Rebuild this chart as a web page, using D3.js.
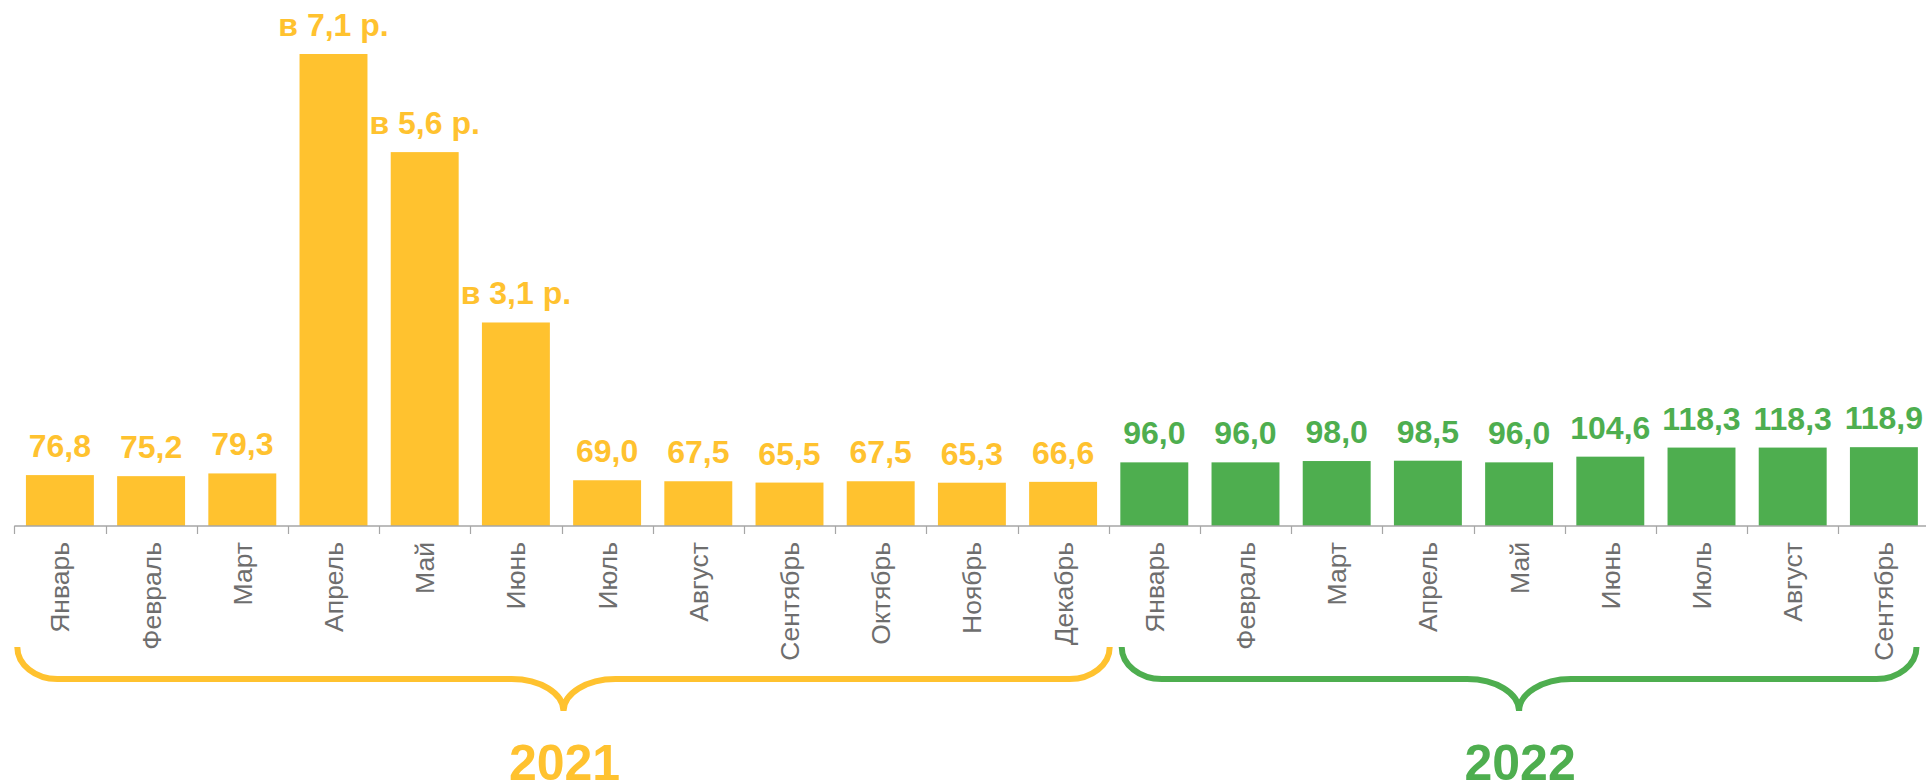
<!DOCTYPE html>
<html>
<head>
<meta charset="utf-8">
<script src="https://cdn.jsdelivr.net/npm/d3@7"></script>
<style>
  html, body { margin: 0; padding: 0; background: #ffffff; }
  svg { display: block; font-family: "Liberation Sans", Arial, sans-serif; }
</style>
</head>
<body>
<svg id="chart" width="1926" height="782"></svg>
<script>
// ---- Data ----
const months2021 = ["Январь", "Февраль", "Март", "Апрель", "Май", "Июнь", "Июль", "Август", "Сентябрь", "Октябрь", "Ноябрь", "Декабрь"];
const values2021 = [76.8, 75.2, 79.3, 712, 564, 307, 69.0, 67.5, 65.5, 67.5, 65.3, 66.6];
const labels2021 = [null, null, null, "в 7,1 р.", "в 5,6 р.", "в 3,1 р.", null, null, null, null, null, null];

const months2022 = ["Январь", "Февраль", "Март", "Апрель", "Май", "Июнь", "Июль", "Август", "Сентябрь"];
const values2022 = [96.0, 96.0, 98.0, 98.5, 96.0, 104.6, 118.3, 118.3, 118.9];

const years = ["2021", "2022"];

// ---- Styles ----
const COLORS = { "2021": "#FFC22F", "2022": "#4EAE4F" };
const AXIS_COLOR = "#A6A6A6";
const MONTH_COLOR = "#6E6E6E";

// ---- Build rows ----
const rows = [];
months2021.forEach((m, i) => rows.push({ key: "2021-" + i, month: m, year: "2021", value: values2021[i], label: labels2021[i] }));
months2022.forEach((m, i) => rows.push({ key: "2022-" + i, month: m, year: "2022", value: values2022[i], label: null }));

const svg = d3.select("#chart");

const x = d3.scaleBand()
  .domain(rows.map(d => d.key))
  .range([14.3, 1929.5])
  .paddingInner(0.255)
  .paddingOuter(0.1275);

const xb = d3.scaleBand()
  .domain(rows.map(d => d.key))
  .range([14.3, 1929.5])
  .padding(0);

const baseY = 526;
const y = d3.scaleLinear().domain([0, 712]).range([baseY, 54]);

const fmt = v => d3.format(".1f")(v).replace(".", ",");

// Bars
svg.append("g").selectAll("rect")
  .data(rows)
  .join("rect")
  .attr("x", d => x(d.key))
  .attr("y", d => y(d.value))
  .attr("width", x.bandwidth())
  .attr("height", d => y(0) - y(d.value))
  .attr("fill", d => COLORS[d.year]);

// Value labels
svg.append("g").selectAll("text")
  .data(rows)
  .join("text")
  .attr("x", d => x(d.key) + x.bandwidth() / 2)
  .attr("y", d => y(d.value) - 18)
  .attr("text-anchor", "middle")
  .attr("font-size", 32)
  .attr("font-weight", "bold")
  .attr("fill", d => COLORS[d.year])
  .text(d => d.label ? d.label : fmt(d.value));

// Axis line
const axisG = svg.append("g");
axisG.append("line")
  .attr("x1", xb.range()[0]).attr("x2", 1926)
  .attr("y1", y(0)).attr("y2", y(0))
  .attr("stroke", AXIS_COLOR).attr("stroke-width", 1.5);

axisG.selectAll("line.tick")
  .data(rows)
  .join("line")
  .attr("class", "tick")
  .attr("x1", d => Math.round(xb(d.key)) + 0.5)
  .attr("x2", d => Math.round(xb(d.key)) + 0.5)
  .attr("y1", y(0))
  .attr("y2", y(0) + 8)
  .attr("stroke", AXIS_COLOR).attr("stroke-width", 1.2);

// Month labels (rotated)
svg.append("g").selectAll("text")
  .data(rows)
  .join("text")
  .attr("transform", d => `translate(${x(d.key) + x.bandwidth() / 2},542) rotate(-90)`)
  .attr("dy", "0.36em")
  .attr("text-anchor", "end")
  .attr("font-size", 26.5)
  .attr("fill", MONTH_COLOR)
  .text(d => d.month);

// Braces
function bracePath(x1, x2, yT, yM, yB, rEnd, rTip) {
  const k = 0.5523;
  const xc = (x1 + x2) / 2;
  const hEnd = yM - yT, hTip = yB - yM;
  return [
    `M${x1},${yT}`,
    `C${x1},${yT + k * hEnd} ${x1 + rEnd - k * rEnd},${yM} ${x1 + rEnd},${yM}`,
    `L${xc - rTip},${yM}`,
    `C${xc - rTip + k * rTip},${yM} ${xc},${yB - k * hTip} ${xc},${yB}`,
    `C${xc},${yB - k * hTip} ${xc + rTip - k * rTip},${yM} ${xc + rTip},${yM}`,
    `L${x2 - rEnd},${yM}`,
    `C${x2 - rEnd + k * rEnd},${yM} ${x2},${yT + k * hEnd} ${x2},${yT}`
  ].join(" ");
}

const yearSpans = years.map(yr => {
  const keys = rows.filter(r => r.year === yr).map(r => r.key);
  const start = xb(keys[0]);
  const end = xb(keys[keys.length - 1]) + xb.bandwidth();
  return { year: yr, start, end };
});
const braceInset = { "2021": [3, -1], "2022": [13, 13] };

yearSpans.forEach(s => {
  const x1 = s.start + braceInset[s.year][0];
  const x2 = s.end - braceInset[s.year][1];
  svg.append("path")
    .attr("d", bracePath(x1, x2, 647, 679, 711, 40, 52))
    .attr("fill", "none")
    .attr("stroke", COLORS[s.year])
    .attr("stroke-width", 6);
  svg.append("text")
    .attr("x", (x1 + x2) / 2 + 1)
    .attr("y", 780)
    .attr("text-anchor", "middle")
    .attr("font-size", 50)
    .attr("font-weight", "bold")
    .attr("fill", COLORS[s.year])
    .text(s.year);
});
</script>
</body>
</html>
